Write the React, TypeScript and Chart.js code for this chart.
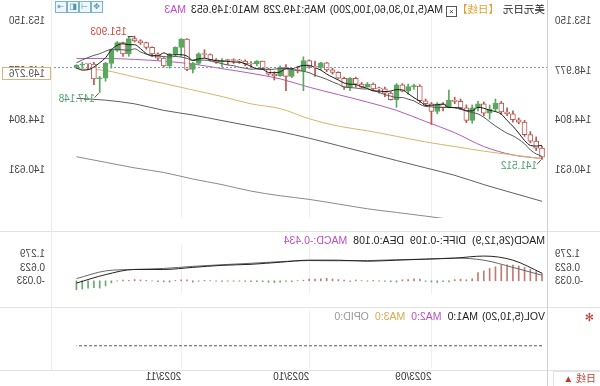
import React, { useEffect, useRef } from "react";
import { Chart, registerables } from "chart.js";
Chart.register(...registerables);

const FONT = '"Liberation Sans", "Noto Sans CJK SC", sans-serif';

// ---- DATA (chronological, oldest first) ----
const dates = [
  "08-07","08-08","08-09","08-10","08-11","08-14","08-15","08-16","08-17","08-18",
  "08-21","08-22","08-23","08-24","08-25","08-28","08-29","08-30","08-31","09-01",
  "09-04","09-05","09-06","09-07","09-08","09-11","09-12","09-13","09-14","09-15",
  "09-18","09-19","09-20","09-21","09-22","09-25","09-26","09-27","09-28","09-29",
  "10-02","10-03","10-04","10-05","10-06","10-09","10-10","10-11","10-12","10-13",
  "10-16","10-17","10-18","10-19","10-20","10-23","10-24","10-25","10-26","10-27",
  "10-30","10-31","11-01","11-02","11-03","11-06","11-07","11-08","11-09","11-10",
  "11-13","11-14","11-15","11-16","11-17","11-20","11-21","11-22","11-23","11-24","11-27"
];
const opens = [
  141.70,142.45,143.05,143.60,144.65,144.85,145.35,145.50,146.25,145.75,
  145.40,146.20,145.85,144.80,145.85,146.40,146.50,145.90,146.20,145.55,
  146.20,146.45,147.70,147.65,147.25,147.80,146.55,147.10,147.45,147.45,
  147.85,147.60,147.85,148.35,147.60,148.35,148.85,149.05,149.65,149.30,
  149.35,149.85,149.00,149.05,148.50,149.30,148.55,148.70,149.15,149.80,
  149.55,149.55,149.80,149.85,149.85,149.85,149.70,149.90,150.35,150.40,
  149.60,149.10,151.65,150.95,150.40,149.40,150.05,150.40,150.95,151.35,
  151.50,151.70,150.40,151.35,150.70,149.60,148.35,148.30,149.55,149.55,149.45
];
const highs = [
  142.60,143.40,143.85,144.80,145.00,145.60,145.85,146.40,146.60,146.10,
  146.35,146.40,146.10,146.10,146.60,146.75,147.35,146.30,146.30,146.30,
  146.60,147.80,147.85,147.85,147.90,147.90,147.20,147.60,147.60,147.95,
  148.00,148.00,148.45,148.40,148.45,148.90,149.20,149.70,149.70,149.80,
  149.90,150.16,149.30,149.20,149.50,149.40,148.90,149.20,149.80,149.85,
  149.75,149.90,149.95,150.00,149.95,150.00,150.00,150.40,150.75,150.50,
  149.70,151.70,151.70,151.00,150.45,150.10,150.50,151.00,151.40,151.60,
  151.903,151.80,151.40,151.45,150.80,149.70,148.50,149.70,149.60,149.70,149.50
];
const lows = [
  141.512,142.25,142.90,143.45,144.50,144.65,145.20,145.30,145.55,144.90,
  145.20,145.60,144.55,144.60,145.70,146.20,145.85,145.60,145.35,144.45,
  146.00,146.30,147.40,147.00,147.20,145.90,146.50,146.80,147.10,147.30,
  147.60,147.55,147.60,147.30,147.40,148.30,148.70,148.90,149.10,148.50,
  149.20,147.30,148.80,148.40,147.30,148.50,148.20,148.60,149.10,149.40,
  149.30,149.40,149.60,149.60,149.50,149.30,149.60,149.80,150.10,149.50,
  148.80,149.00,150.20,150.20,149.20,149.30,149.90,150.20,150.80,151.20,
  151.40,150.20,150.20,150.60,149.20,148.10,147.148,147.80,149.10,149.20,149.15
];
const closes = [
  142.45,143.05,143.60,144.65,144.85,145.35,145.50,146.25,145.75,145.40,
  146.20,145.85,144.80,145.85,146.40,146.50,145.90,146.20,145.55,146.20,
  146.45,147.70,147.65,147.25,147.80,146.55,147.10,147.45,147.45,147.85,
  147.60,147.85,148.35,147.60,148.35,148.85,149.05,149.65,149.30,149.35,
  149.85,149.00,149.05,148.50,149.30,148.55,148.70,149.15,149.80,149.55,
  149.55,149.80,149.85,149.85,149.85,149.70,149.90,150.35,150.40,149.60,
  149.10,151.65,150.95,150.40,149.40,150.05,150.40,150.95,151.35,151.50,
  151.70,150.40,151.35,150.70,149.60,148.35,148.30,149.55,149.55,149.45,149.276
];
// closes before the first visible candle (feed MA5 / MA10 at the left edge)
const warmupCloses = [140.93, 140.27, 139.47, 141.16, 142.29, 143.35, 143.33, 142.56, 141.76];

// long moving averages every 5 candles
const maIdx = [0, 5, 10, 15, 20, 25, 30, 35, 40, 45, 50, 55, 60, 65, 70, 75, 80];
const ma30 = [141.57,141.88,142.59,143.76,144.70,145.64,146.34,146.97,147.59,148.30,148.77,149.16,149.55,149.79,149.94,150.02,150.02];
const ma60 = [141.57,141.88,142.20,142.59,142.98,143.45,143.92,144.31,144.93,145.79,146.19,146.81,147.36,147.91,148.45,149.00,149.16];
const ma100 = [137.97,138.67,139.38,140.16,140.79,141.41,142.04,142.67,143.29,143.84,144.31,144.78,145.25,145.64,146.19,146.50,146.66];
const ma200 = [135.50,135.80,136.10,136.40,136.72,137.03,137.34,137.74,138.13,138.44,138.83,139.38,139.85,140.40,140.79,141.26,141.73];

// MACD lines read every 5 candles, histogram per candle
const macdDiff = [0.37,1.00,1.20,1.10,1.05,1.00,0.95,1.00,1.00,0.90,0.80,0.75,0.65,0.55,0.55,0.30,-0.109];
const macdDea = [0.27,0.65,1.00,1.10,1.05,1.02,0.98,0.97,0.98,0.93,0.85,0.78,0.70,0.60,0.55,0.48,0.108];
const macdHist = [
  0.35,0.45,0.55,0.65,0.72,0.76,0.77,0.75,0.68,0.60,
  0.48,0.40,0.10,0.05,0.08,0.06,-0.05,-0.04,-0.08,-0.06,
  -0.03,0.08,0.10,0.06,0.05,-0.06,-0.05,-0.03,-0.02,0.02,
  -0.02,0.01,0.04,-0.03,0.03,0.06,0.09,0.12,0.10,0.08,
  0.09,0.03,0.01,-0.04,-0.03,-0.06,-0.08,-0.07,-0.04,-0.04,
  -0.04,-0.03,-0.02,-0.02,-0.02,-0.03,-0.02,0.01,0.02,-0.02,
  -0.07,0.05,0.05,0.02,-0.06,-0.05,-0.04,-0.01,0.02,0.04,
  0.06,0.02,0.03,-0.01,-0.10,-0.25,-0.35,-0.33,-0.36,-0.40,-0.434
];
const volumes = [
  0,0,0,0,0,0,0,0,0,0,0,0,0,0,0,0,0,0,0,0,0,0,0,0,0,0,0,0,0,0,0,0,0,0,0,0,0,0,0,0,
  0,0,0,0,0,0,0,0,0,0,0,0,0,0,0,0,0,0,0,0,0,0,0,0,0,0,0,0,0,0,0,0,0,0,0,0,0,0,0,0,0
];

const monthTicks = [19, 40, 62];
const monthLabels = ["2023/09", "2023/10", "2023/11"];
const priceTicks = [140.631, 144.804, 148.977, 153.15];
const macdTicks = [-0.033, 0.623, 1.279];
const lastPrice = 149.276;
const highMark = { idx: 70, value: 151.903 };
const lowMarks = [{ idx: 76, value: 147.148 }, { idx: 0, value: 141.512 }];

const UP = "#b9564e";
const DOWN = "#5aa85f";

function movingAvg(n: number) {
  const all = [...warmupCloses, ...closes];
  return closes.map((_, i) => {
    const end = i + warmupCloses.length;
    let s = 0;
    for (let k = end - n + 1; k <= end; k++) s += all[k];
    return s / n;
  });
}

const X_MIN = -1.03;
const X_MAX = 84.2;

function xScale(showLabels: boolean) {
  return {
    type: "linear" as const,
    min: X_MIN,
    max: X_MAX,
    offset: false,
    afterBuildTicks: (s: any) => {
      s.ticks = monthTicks.map((v) => ({ value: v }));
    },
    ticks: {
      display: showLabels,
      autoSkip: false,
      maxRotation: 0,
      align: "start" as const,
      padding: 3,
      color: "#333",
      font: { family: FONT, size: 10 },
      callback: (v: any) => {
        const k = monthTicks.indexOf(Number(v));
        return k >= 0 ? monthLabels[k] : "";
      },
    },
    grid: { color: "#efefef", drawTicks: false, offset: false },
    border: { display: false },
    ...(showLabels ? {} : { afterFit: (s: any) => { s.height = 0; } }),
  };
}

function yScale(pos: "left" | "right", min: number, max: number, ticks: number[], show = true) {
  return {
    position: pos,
    min,
    max,
    display: show,
    afterBuildTicks: (s: any) => {
      s.ticks = ticks.map((v) => ({ value: v }));
    },
    ticks: {
      padding: 7,
      color: "#444",
      font: { family: FONT, size: 10 },
      callback: (v: any) => Number(v).toFixed(3),
    },
    grid: { display: false, drawTicks: false },
    border: { display: false },
    afterFit: (s: any) => { s.width = 52; },
  };
}

const commonOpts = {
  animation: false as const,
  responsive: false,
  maintainAspectRatio: false,
  devicePixelRatio: 1,
  events: [] as any[],
  plugins: { legend: { display: false }, tooltip: { enabled: false } },
};

const markPlugin = {
  id: "marks",
  afterDatasetsDraw(chart: any) {
    const { ctx, chartArea, scales } = chart;
    const x = scales.x, y = scales.y;
    ctx.save();
    const yp = Math.round(y.getPixelForValue(lastPrice)) + 0.5;
    ctx.strokeStyle = "#7f9aab";
    ctx.lineWidth = 1;
    ctx.setLineDash([2, 2]);
    ctx.beginPath();
    ctx.moveTo(chartArea.left, yp);
    ctx.lineTo(chartArea.right, yp);
    ctx.stroke();
    ctx.setLineDash([]);
    ctx.fillStyle = "#fff";
    ctx.fillRect(549, yp - 0.5, 50, 13);
    ctx.strokeStyle = "#d9b57a";
    ctx.strokeRect(549.5, yp, 48, 12);
    ctx.fillStyle = "#555";
    ctx.font = "10px " + FONT;
    ctx.textBaseline = "middle";
    ctx.textAlign = "left";
    ctx.fillText(lastPrice.toFixed(3), 555, yp + 6.5);

    // high mark
    const hx = x.getPixelForValue(highMark.idx);
    const hy = y.getPixelForValue(highMark.value);
    ctx.strokeStyle = "#333";
    ctx.beginPath();
    ctx.moveTo(hx + 1, hy + 0.5);
    ctx.lineTo(hx + 7, hy + 0.5);
    ctx.stroke();
    ctx.fillStyle = "#d0473c";
    ctx.fillText(highMark.value.toFixed(3), hx + 8, hy - 4);

    // low marks
    for (const m of lowMarks) {
      const lx = x.getPixelForValue(m.idx);
      const ly = y.getPixelForValue(m.value);
      ctx.strokeStyle = "#555";
      ctx.beginPath();
      ctx.moveTo(lx + 1, ly + 0.5);
      ctx.lineTo(lx + 5, ly + 5);
      ctx.stroke();
      ctx.fillStyle = "#4f9f6e";
      ctx.fillText(m.value.toFixed(3), lx + 5, ly + 7);
    }
    ctx.restore();
  },
};

export default function App() {
  const mainRef = useRef<HTMLCanvasElement>(null);
  const macdRef = useRef<HTMLCanvasElement>(null);
  const volRef = useRef<HTMLCanvasElement>(null);

  useEffect(() => {
    const idx = closes.map((_, i) => i);
    const ma5 = movingAvg(5);
    const ma10 = movingAvg(10);
    const isUp = idx.map((i) => closes[i] >= opens[i]);
    const sparse = (arr: number[]) => maIdx.map((k, j) => ({ x: k, y: arr[j] }));
    const line = (label: string, data: any[], color: string, order: number, width = 1) => ({
      type: "line" as const,
      label,
      data,
      borderColor: color,
      borderWidth: width,
      pointRadius: 0,
      cubicInterpolationMode: "monotone" as const,
      order,
    });

    const pMax = 153.15 + (17 - 8) / 12.78;
    const pMin = 153.15 - (229 - 17) / 12.78;

    const main = new Chart(mainRef.current!, {
      type: "bar",
      data: {
        datasets: [
          line("MA200", sparse(ma200), "#8a8a8a", 5),
          line("MA100", sparse(ma100), "#5e5e66", 5),
          line("MA60", sparse(ma60), "#d8b46a", 5),
          line("MA30", sparse(ma30), "#b35cb8", 5),
          {
            label: "wick",
            data: idx.map((i) => ({ x: i, y: [lows[i], highs[i]] })),
            backgroundColor: idx.map((i) => (isUp[i] ? UP : DOWN)),
            barThickness: 1,
            grouped: false,
            order: 3,
          } as any,
          {
            label: "body",
            data: idx.map((i) => ({ x: i, y: [Math.min(opens[i], closes[i]), Math.max(opens[i], closes[i])] })),
            backgroundColor: idx.map((i) => (isUp[i] ? "#ffffff" : DOWN)),
            borderColor: idx.map((i) => (isUp[i] ? UP : DOWN)),
            borderWidth: 1,
            borderSkipped: false,
            barThickness: 5,
            minBarLength: 1,
            grouped: false,
            order: 2,
          } as any,
          line("MA10", idx.map((i) => ({ x: i, y: ma10[i] })), "#555555", 1),
          line("MA5", idx.map((i) => ({ x: i, y: ma5[i] })), "#1a1a1a", 0),
        ],
      },
      options: {
        ...commonOpts,
        layout: { padding: { top: 8, bottom: 2, left: 0, right: 0 } },
        scales: {
          x: xScale(false) as any,
          y: yScale("left", pMin, pMax, priceTicks) as any,
          y2: yScale("right", pMin, pMax, priceTicks) as any,
        },
      } as any,
      plugins: [markPlugin],
    });

    const mPx = 19.5 / 0.656;
    const mMax = 1.279 + (248 - 233) / mPx;
    const mMin = -0.033 - (305 - 287) / mPx;
    const macd = new Chart(macdRef.current!, {
      type: "bar",
      data: {
        datasets: [
          {
            label: "MACD",
            data: idx.map((i) => ({ x: i, y: macdHist[i] })),
            backgroundColor: idx.map((i) => (macdHist[i] >= 0 ? "#c27b74" : "#6aa86e")),
            barThickness: 1,
            grouped: false,
            order: 2,
          } as any,
          line("DIFF", sparse(macdDiff), "#222222", 0),
          line("DEA", sparse(macdDea), "#666666", 1),
        ],
      },
      options: {
        ...commonOpts,
        layout: { padding: { top: 2, bottom: 2, left: 0, right: 0 } },
        scales: {
          x: xScale(false) as any,
          y: yScale("left", mMin, mMax, macdTicks) as any,
          y2: yScale("right", mMin, mMax, macdTicks) as any,
        },
      } as any,
    });

    const vol = new Chart(volRef.current!, {
      type: "line",
      data: {
        datasets: [
          {
            label: "VOL",
            data: idx.map((i) => ({ x: i, y: volumes[i] })),
            borderColor: "#555",
            borderWidth: 1,
            borderDash: [3, 2],
            pointRadius: 0,
          },
        ],
      },
      options: {
        ...commonOpts,
        layout: { padding: { top: 3, bottom: 0, left: 52, right: 52 } },
        scales: {
          x: xScale(true) as any,
          y: { display: false, min: -23 / 37, max: 1 },
        },
      } as any,
    });

    return () => {
      main.destroy();
      macd.destroy();
      vol.destroy();
    };
  }, []);

  const txt = (extra: any) => ({
    position: "absolute" as const,
    fontSize: 10.5,
    lineHeight: "12px",
    whiteSpace: "nowrap" as const,
    ...extra,
  });
  const icon = (left: number, glyph: string) => (
    <div
      style={{
        position: "absolute", left, top: 1, width: 10, height: 10,
        border: "1px solid #7fb3cc", color: "#4f93b5", fontSize: 8,
        lineHeight: "10px", textAlign: "center", background: "#eef6fa",
      }}
    >
      {glyph}
    </div>
  );

  return (
    <div
      style={{
        position: "fixed", left: 0, top: 0, width: 600, height: 386,
        background: "#fff", overflow: "hidden", transform: "scaleX(-1)",
        fontFamily: FONT, color: "#333",
      }}
    >
      <canvas ref={mainRef} width={600} height={231} style={{ position: "absolute", left: 0, top: 0 }} />
      <canvas ref={macdRef} width={600} height={76} style={{ position: "absolute", left: 0, top: 231 }} />
      <canvas ref={volRef} width={600} height={79} style={{ position: "absolute", left: 0, top: 307 }} />

      {/* frame lines */}
      <div style={{ position: "absolute", left: 0, top: 231, width: 600, height: 1, background: "#e2e2e2" }} />
      <div style={{ position: "absolute", left: 0, top: 307, width: 600, height: 1, background: "#e2e2e2" }} />
      <div style={{ position: "absolute", left: 0, top: 370, width: 600, height: 1, background: "#e2e2e2" }} />
      <div style={{ position: "absolute", left: 52, top: 0, width: 1, height: 386, background: "#cfcfcf" }} />
      <div style={{ position: "absolute", left: 548, top: 0, width: 1, height: 370, background: "#ececec" }} />

      {/* main title */}
      <div style={txt({ left: 55, top: 3, width: 380, overflow: "hidden" })}>
        <span style={{ color: "#222" }}>美元日元</span>
        <span style={{ color: "#e0a030", marginLeft: 4 }}>【日线】</span>
        <span style={{ display: "inline-block", width: 9, height: 9, border: "1px solid #555", fontSize: 8, lineHeight: "9px", textAlign: "center", verticalAlign: "-1px", margin: "0 3px 0 0" }}>×</span>
        <span style={{ color: "#222" }}>MA(5,10,30,60,100,200)</span>
        <span style={{ color: "#222", marginLeft: 4 }}>MA5:149.228</span>
        <span style={{ color: "#222", marginLeft: 4 }}>MA10:149.653</span>
        <span style={{ color: "#c04cc8", marginLeft: 5 }}>MA30:150.021</span>
      </div>
      {icon(497, "✥")}
      {icon(509, "⊣")}
      {icon(521, "◧")}
      {icon(533, "⇥")}

      {/* MACD title */}
      <div style={txt({ left: 55, top: 234 })}>
        <span style={{ color: "#222" }}>MACD(26,12,9)</span>
        <span style={{ color: "#222", marginLeft: 6 }}>DIFF:-0.109</span>
        <span style={{ color: "#222", marginLeft: 6 }}>DEA:0.108</span>
        <span style={{ color: "#c04cc8", marginLeft: 6 }}>MACD:-0.434</span>
      </div>

      {/* VOL title */}
      <div style={txt({ left: 55, top: 310 })}>
        <span style={{ color: "#222" }}>VOL(5,10,20)</span>
        <span style={{ color: "#222", marginLeft: 4 }}>MA1:0</span>
        <span style={{ color: "#c04cc8", marginLeft: 6 }}>MA2:0</span>
        <span style={{ color: "#d8a94a", marginLeft: 6 }}>MA3:0</span>
        <span style={{ color: "#999", marginLeft: 6 }}>OPID:0</span>
      </div>
      <div style={{ position: "absolute", left: 6, top: 311, color: "#c0392b", fontSize: 11, lineHeight: "12px" }}>✻</div>

      {/* period switch */}
      <div style={{ position: "absolute", left: 0, top: 371, width: 46, height: 14, border: "1px solid #e2e2e2", borderLeft: "none" }} />
      <div style={txt({ left: 4, top: 373, color: "#c0392b", fontSize: 10 })}>日线 ▲</div>
    </div>
  );
}
